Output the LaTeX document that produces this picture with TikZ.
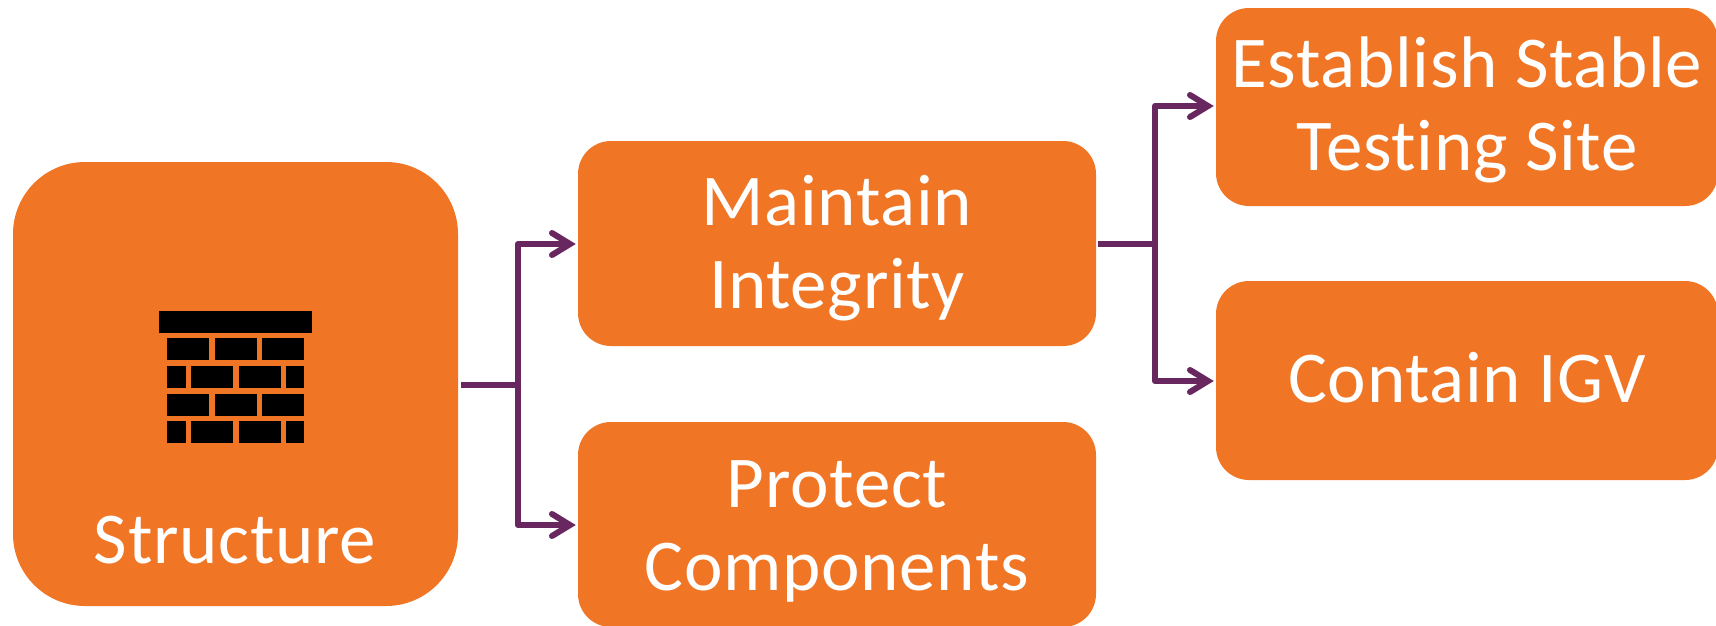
\documentclass[tikz,border=0pt]{standalone}
\usepackage{fontspec}
\setmainfont{Carlito}[LetterSpace=1,Ligatures=NoCommon]
\definecolor{boxor}{HTML}{F07525}
\definecolor{conn}{HTML}{68285F}
\tikzset{
 x=1pt,y=-1pt,
 orbox/.style={fill=boxor,draw=none,rounded corners=#1,inner sep=0pt},
 lab/.style={text=white,font=\fontsize{73}{83}\selectfont,align=center,inner sep=0pt},
 conline/.style={draw=conn,line width=6pt,line join=round},
 brick/.style={fill=black,draw=none},
 headline/.style={draw=conn,line width=6pt,line cap=round,line join=miter},
}
\newcommand{\orbx}[6]{% name, x1,y1,x2,y2,r
 \path[orbox=#6] (#2,#3) rectangle (#4,#5);
 \coordinate (#1) at ({(#2+#4)/2},{(#3+#5)/2});
}
\begin{document}
\begin{tikzpicture}
\clip (0,0) rectangle (1716,625);
\fill[white] (0,0) rectangle (1716,625);
\orbx{sb}{13}{162}{458}{606}{72}
\orbx{mb}{578}{141}{1096}{346}{33}
\orbx{pb}{578}{422}{1096}{627}{33}
\orbx{eb}{1216}{8}{1718}{206}{33}
\orbx{cb}{1216}{281}{1718}{480}{33}
\node[lab] (slabel) at (235,540) {Structure};
\node[lab] (mlabel) at (837,248) {Maintain\\Integrity};
\node[lab] (plabel) at (837,531) {Protect\\Components};
\node[lab] (elabel) at (1467,110) {Establish Stable\\Testing Site};
\node[lab] (clabel) at (1467,378) {Contain IGV};
\foreach \a/\b/\c/\d in {159.3/310.7/312.3/332.7,
 167.3/338.3/209.3/360.3,215/338.3/257/360.3,262.3/338.3/304.3/360.3,
 167.3/366/185.7/388.3,191.3/366/233/388.3,238.7/366/280.7/388.3,286/366/304.3/388.3,
 167.3/393.7/209.3/416,215/393.7/257/416,262.3/393.7/304.3/416,
 167.3/421.3/185.7/443.3,191.3/421.3/233/443.3,238.7/421.3/280.7/443.3,286/421.3/304.3/443.3}
  \fill[brick] (\a,\b) rectangle (\c,\d);
\coordinate (ls) at (461,385);
\coordinate (lj) at (518,385);
\coordinate (lt) at (570,244);
\coordinate (lb) at (570,525);
\coordinate (rs) at (1098,244);
\coordinate (rj) at (1155,244);
\coordinate (rt) at (1208,106);
\coordinate (rb) at (1208,381);
\draw[conline] (ls) -- (lj);
\draw[conline] (rs) -- (rj);
\draw[conline] (lt) -- (lj |- lt) -- (lj |- lb) -- (lb);
\draw[conline] (rt) -- (rj |- rt) -- (rj |- rb) -- (rb);
\foreach \t in {lt,lb,rt,rb}
  \draw[headline] ([shift={(-18,-11)}]\t) -- (\t) -- ([shift={(-18,11)}]\t);
\end{tikzpicture}
\end{document}
